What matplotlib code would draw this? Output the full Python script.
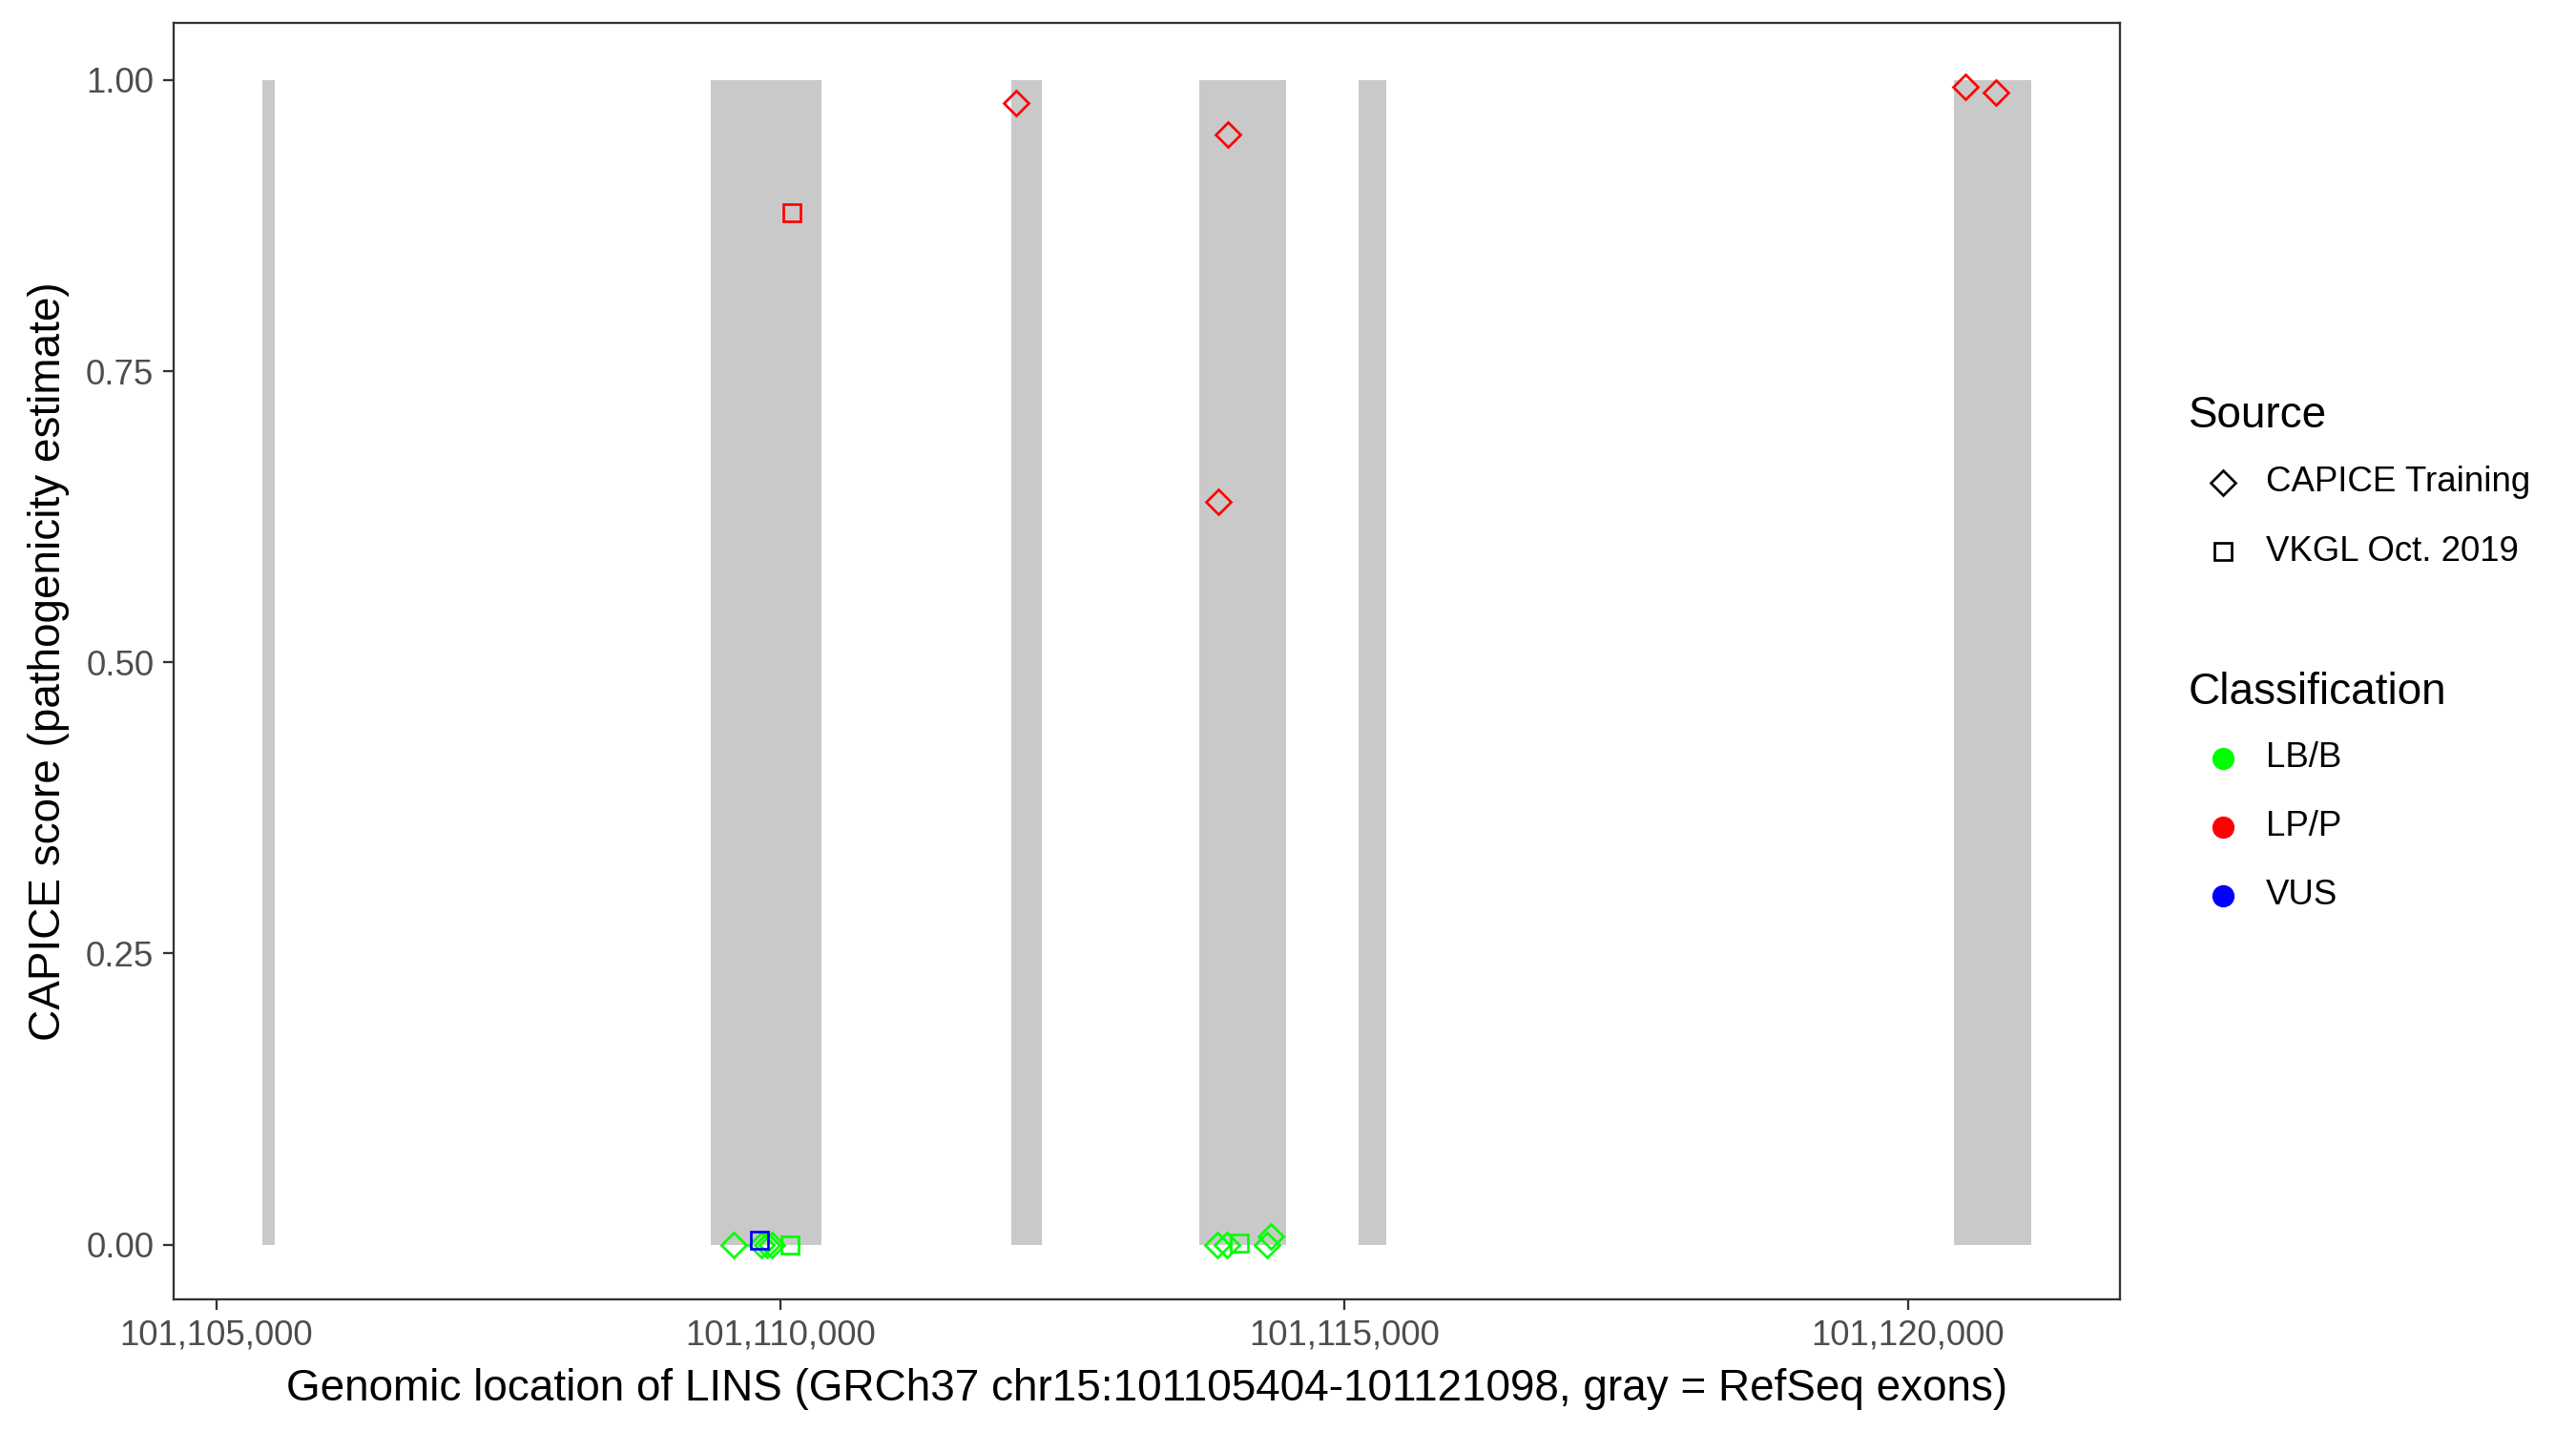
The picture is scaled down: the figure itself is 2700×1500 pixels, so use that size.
import matplotlib
matplotlib.use("Agg")
import matplotlib.pyplot as plt
from matplotlib.lines import Line2D
from matplotlib.ticker import FuncFormatter

plt.rcParams['font.family'] = ['Liberation Sans', 'DejaVu Sans']

# gene and exons (RefSeq)
gene_start = 101105404
gene_end = 101121098
exon_start = [101105404, 101109386, 101112045, 101113715, 101115132, 101120406]
exon_end = [101105520, 101110367, 101112319, 101114489, 101115378, 101121098]

# variants
pos = [101109588, 101109833, 101109884, 101109926, 101113881, 101113965, 101114320, 101114354,
       101110087, 101114075,
       101109817,
       101110105,
       101112090, 101113974, 101113889, 101120514, 101120785]
score = [0.0, 0.0, 0.0, 0.0, 0.0, 0.0, 0.0, 0.007,
         0.0, 0.001,
         0.004,
         0.886,
         0.980, 0.953, 0.638, 0.994, 0.989]
source = ['CAPICE Training'] * 8 + ['VKGL Oct. 2019'] * 4 + ['CAPICE Training'] * 5
classification = ['LB/B'] * 10 + ['VUS', 'LP/P'] + ['LP/P'] * 5

class_colors = {'LB/B': '#00FF00', 'LP/P': '#FF0000', 'VUS': '#0000FF'}
source_markers = {'CAPICE Training': ('D', 4.4), 'VKGL Oct. 2019': ('s', 4.4)}

fig = plt.figure(figsize=(9, 5), dpi=300)
ax = fig.add_axes([0.0674, 0.092, 0.823 - 0.0674, 0.984 - 0.092])

for s, e in zip(exon_start, exon_end):
    ax.fill_between([s, e], 0, 1, color='#C9C9C9', lw=0, zorder=1)

for x, y, src, cl in zip(pos, score, source, classification):
    m, ms = source_markers[src]
    ax.plot(x, y, linestyle='none', marker=m, ms=ms, mfc='none', mec=class_colors[cl],
            mew=0.65, zorder=3)

span = gene_end - gene_start
ax.set_xlim(gene_start - 0.05 * span, gene_end + 0.05 * span)
ax.set_ylim(-0.047, 1.049)
ax.set_xticks([101105000, 101110000, 101115000, 101120000])
ax.xaxis.set_major_formatter(FuncFormatter(lambda v, p: f'{int(v):,}'))
ax.set_yticks([0, 0.25, 0.5, 0.75, 1.0])
ax.set_yticklabels(['0.00', '0.25', '0.50', '0.75', '1.00'])
ax.tick_params(axis='both', labelsize=8.8, labelcolor='#4D4D4D', color='#333333',
               length=2.75, width=0.55, pad=2.2)
for sp in ax.spines.values():
    sp.set_color('#333333')
    sp.set_linewidth(0.55)

ax.set_xlabel('Genomic location of LINS (GRCh37 chr15:101105404-101121098, gray = RefSeq exons)',
              fontsize=11, labelpad=4)
ax.set_ylabel('CAPICE score (pathogenicity estimate)', fontsize=11, labelpad=4)

# legends drawn by hand, ggplot style
def fy(px):
    return 1 - px / 1500.0

fig.text(2294 / 2700, fy(436), 'Source', fontsize=11, va='center', ha='left')
for lab, ypx in zip(['CAPICE Training', 'VKGL Oct. 2019'], [506, 578]):
    m, ms = source_markers[lab]
    fig.add_artist(Line2D([2330 / 2700], [fy(ypx)], marker=m, ms=ms, mfc='none', mec='black',
                          mew=0.65, linestyle='none', transform=fig.transFigure))
    fig.text(2375 / 2700, fy(ypx), lab, fontsize=8.8, va='center', ha='left')

fig.text(2294 / 2700, fy(726), 'Classification', fontsize=11, va='center', ha='left')
for lab, ypx in zip(['LB/B', 'LP/P', 'VUS'], [795, 867, 939]):
    fig.add_artist(Line2D([2330 / 2700], [fy(ypx)], marker='o', ms=4.6, mfc=class_colors[lab],
                          mec=class_colors[lab], linestyle='none', transform=fig.transFigure))
    fig.text(2375 / 2700, fy(ypx), lab, fontsize=8.8, va='center', ha='left')

fig.savefig('out.png', dpi=300)
